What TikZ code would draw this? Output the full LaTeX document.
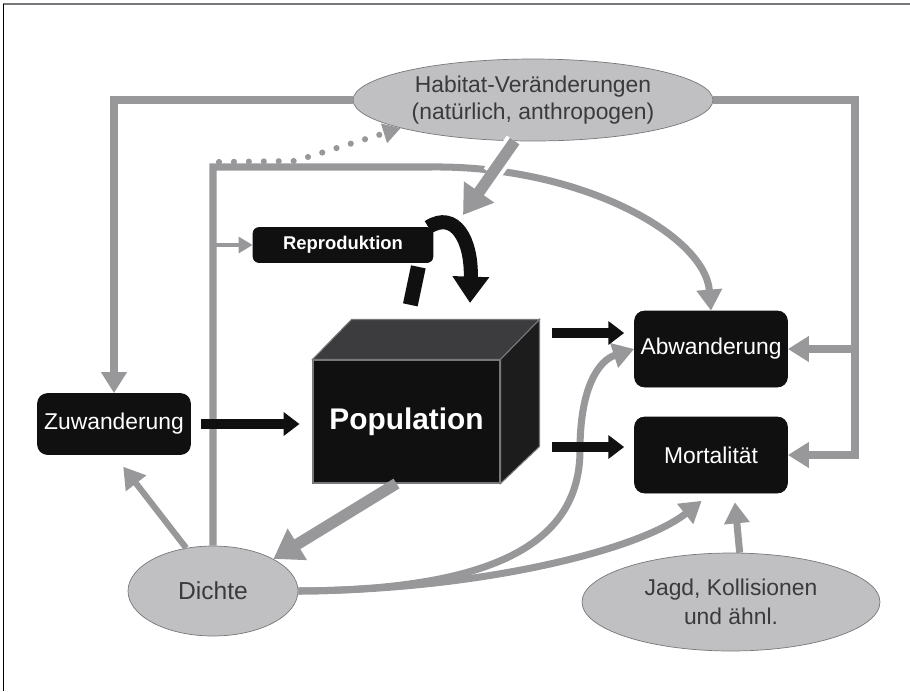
\documentclass[tikz,border=0pt]{standalone}
\usepackage{fontspec}
\setmainfont{Liberation Sans}
\usetikzlibrary{arrows.meta,shapes.geometric,calc}

\definecolor{liniengrau}{RGB}{152,152,155}
\definecolor{ellgrau}{RGB}{192,192,195}
\definecolor{randgrau}{RGB}{120,120,124}
\definecolor{textgrau}{RGB}{58,58,60}
\definecolor{boxschwarz}{RGB}{16,16,16}
\definecolor{popoben}{RGB}{60,60,62}
\definecolor{popseite}{RGB}{28,28,28}

\begin{document}
\begin{tikzpicture}[x=0.02cm,y=-0.02cm,
	kasten/.style={draw=boxschwarz,fill=boxschwarz,rounded corners=0.2cm,text=white,
		font=\fontsize{13}{15}\selectfont,minimum width=3.06cm,minimum height=1.52cm},
	wolke/.style={ellipse,draw=randgrau,fill=ellgrau,text=textgrau,align=center,
		font=\fontsize{13}{15.5}\selectfont,inner sep=0pt},
	grau/.style={draw=liniengrau,line width=4pt},
	graupfeil/.style={grau,-{Triangle[length=12pt,width=14pt]}},
	dickpfeil/.style={draw=liniengrau,line width=6.5pt,-{Triangle[length=16pt,width=20pt]}},
	duennpfeil/.style={draw=liniengrau,line width=2.5pt,-{Triangle[length=8pt,width=9pt]}},
	schwarzpfeil/.style={draw=boxschwarz,line width=5.5pt,-{Triangle[length=9pt,width=13pt]}},
	punktpfeil/.style={draw=liniengrau,line width=3.5pt,line cap=round,
		dash pattern=on 0pt off 8.5pt,-{Triangle[length=10pt,width=11pt]}}]
	\useasboundingbox (0,0) rectangle (910,691);
	% Rahmen
	\draw[randgrau,line width=1.2pt] (3,4) -- (910,4);
	\draw[black,line width=0.5pt] (3,4) -- (3,691);

	% Knoten
	\node[wolke,minimum width=7.2cm,minimum height=1.64cm] (habitat) at (533,100) {Habitat-Veränderungen\\(natürlich, anthropogen)};
	\node[wolke,minimum width=3.4cm,minimum height=1.8cm,font=\fontsize{14}{16}\selectfont] (dichte) at (213,591) {Dichte};
	\node[wolke,minimum width=5.96cm,minimum height=1.96cm,font=\fontsize{13}{16.5}\selectfont] (jagd) at (731,602) {Jagd, Kollisionen\\und ähnl.};
	\node[kasten,minimum height=1.22cm] (zuw) at (114,424) {Zuwanderung};
	\node[kasten] (abw) at (711,349) {Abwanderung};
	\node[kasten] (mort) at (711,455) {Mortalität};
	\node[kasten,rounded corners=0.12cm,minimum width=3.6cm,minimum height=0.7cm,
		font=\bfseries\fontsize{10.5}{12}\selectfont] (repro) at (343,245) {Reproduktion};

	% Wuerfel
	\node[fill=boxschwarz,draw=randgrau,line width=0.6pt,minimum width=3.74cm,minimum height=2.46cm,
		inner sep=0pt,text=white,font=\bfseries\fontsize{17}{20}\selectfont] (pop) at (406.5,421.5) {Population};
	\filldraw[fill=popoben,draw=randgrau,line width=0.6pt] (pop.north west) -- ++(39,-40) -- ++(188,0) coordinate (hinten) -- (pop.north east) -- cycle;
	\filldraw[fill=popseite,draw=randgrau,line width=0.6pt] (pop.north east) -- (hinten) -- ++(0,127) -- (pop.south east) -- cycle;

	\coordinate (rechts) at (855,100);
	\coordinate (ecke) at (213,167);
	\coordinate (hr) at (463,215);
	\coordinate (rspitze) at (470,303);
	\path (abw.west) ++(0,-16) coordinate (abwein);
	\path (mort.west) ++(0,-8) coordinate (mortein);

	% graue Verbindungen
	\draw[graupfeil] (habitat.west) -| (zuw.north);
	\draw[graupfeil] (habitat.east) -- (rechts) |- (mort.east);
	\draw[graupfeil] (rechts |- abw.east) -- (abw.east);
	\draw[graupfeil] (dichte.north) -- (ecke) -- (430,167) .. controls (580,165) and (705,235) .. (abw.north);
	\draw[punktpfeil] (ecke) ++(6,-5) -- (295,161) -- (habitat.192);
	\draw[duennpfeil] (ecke |- repro.west) -- (repro.west);
	\draw[graupfeil,line width=3.5pt,shorten >=0.3cm] (dichte.122) -- (zuw.south);
	\draw[graupfeil] (dichte.east) .. controls (500,590) and (580,540) .. (580,450) .. controls (580,385) and (600,360) .. (abw.west);
	\draw[graupfeil,shorten >=0.24cm] (dichte.east) .. controls (480,590) and (640,550) .. (mort.south);
	\draw[graupfeil,shorten >=0.18cm] (jagd.80) -- ($(mort.south)!0.3!(mort.south east)$);
	\draw[dickpfeil] ([xshift=-0.2cm]pop.south) -- (dichte.north east);
	\draw[white,line width=11pt,shorten >=1cm] (habitat.246) -- (hr);
	\draw[dickpfeil] (habitat.246) -- (hr);

	% schwarze Pfeile
	\draw[boxschwarz,line width=8.5pt] ([xshift=-0.3cm,yshift=-0.08cm]repro.south east) -- ++(-8,38);
	\draw[schwarzpfeil,line width=8pt,-{Triangle[length=15pt,width=20pt]}] ([xshift=-0.1cm]repro.north east) .. controls (455,210) and (472,240) .. (rspitze);
	\draw[schwarzpfeil,shorten <=0.2cm,shorten >=0.26cm] (zuw.east) -- (zuw.east -| pop.west);
	\draw[schwarzpfeil,shorten <=0.26cm,shorten >=0.2cm] (hinten |- abwein) -- (abwein);
	\draw[schwarzpfeil,shorten <=0.26cm,shorten >=0.2cm] (hinten |- mortein) -- (mortein);
\end{tikzpicture}
\end{document}
